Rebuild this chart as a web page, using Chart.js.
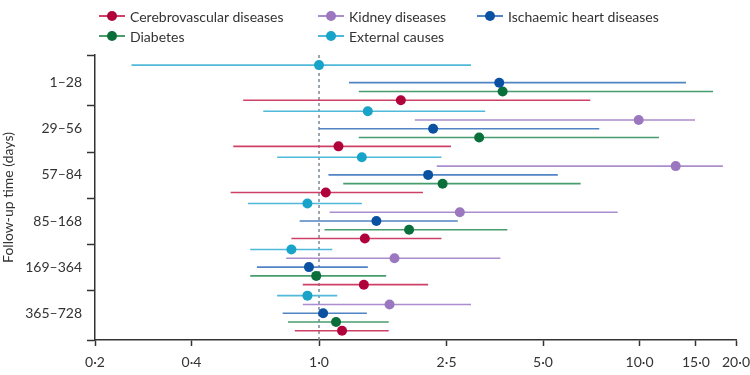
<!DOCTYPE html>
<html>
<head>
<meta charset="utf-8">
<script src="https://cdn.jsdelivr.net/npm/chart.js@4.4.1/dist/chart.umd.min.js"></script>
<style>
    html, body { margin: 0; padding: 0; background: #fff; }
    #wrap { position: relative; width: 750px; height: 375px; }
    #legend { position: absolute; left: 0; top: 0; width: 750px; height: 50px; font-family: Lato, sans-serif; font-size: 14px; color: #333; }
    .item { position: absolute; display: flex; align-items: center; height: 20px; white-space: nowrap; }
    .mark { position: relative; width: 26px; height: 12px; margin-right: 5px; }
    .mark .ln { position: absolute; left: 0; right: 0; top: 5px; height: 2px; }
    .mark .dot { position: absolute; left: 8px; top: 1px; width: 10px; height: 10px; border-radius: 50%; }
</style>
</head>
<body>
<div id="wrap">
    <canvas id="forest"></canvas>
    <div id="legend"></div>
</div>
<script>
// follow-up windows (days)
const groups = ["1–28", "29–56", "57–84", "85–168", "169–364", "365–728"];
const xTicks = [0.2, 0.4, 1, 2.5, 5, 10, 15, 20];

// [estimate, lower, upper] per follow-up window
const cerebrovascular = [[1.80, 0.58, 7.02], [1.15, 0.54, 2.58], [1.05, 0.53, 2.11], [1.39, 0.82, 2.41], [1.38, 0.89, 2.19], [1.18, 0.84, 1.65]];
const kidney = [null, [9.94, 1.99, 14.9], [12.97, 2.33, 18.2], [2.75, 1.08, 8.55], [1.72, 0.79, 3.68], [1.66, 0.89, 2.98]];
const ischaemic = [[3.65, 1.24, 13.96], [2.27, 1.00, 7.49], [2.19, 1.07, 5.56], [1.51, 0.87, 2.71], [0.93, 0.64, 1.42], [1.03, 0.77, 1.41]];
const diabetes = [[3.74, 1.33, 16.96], [3.16, 1.33, 11.5], [2.43, 1.19, 6.55], [1.91, 1.04, 3.87], [0.98, 0.61, 1.62], [1.13, 0.80, 1.65]];
const external = [[1.00, 0.26, 2.98], [1.42, 0.67, 3.30], [1.36, 0.74, 2.41], [0.92, 0.60, 1.36], [0.82, 0.61, 1.10], [0.92, 0.74, 1.14]];

// slot = row inside each window, top to bottom
const series = [
    { name: "Cerebrovascular diseases", data: cerebrovascular, slot: 4, dot: "#b0033c", line: "#cf4067" },
    { name: "Kidney diseases", data: kidney, slot: 1, dot: "#9a77be", line: "#ab8dcd" },
    { name: "Ischaemic heart diseases", data: ischaemic, slot: 2, dot: "#0b51a2", line: "#5084c4" },
    { name: "Diabetes", data: diabetes, slot: 3, dot: "#0b6f3c", line: "#489d6e" },
    { name: "External causes", data: external, slot: 0, dot: "#18a3c9", line: "#50b9d9" },
];

const groupStep = 5.25;
const yMin = -1.15;
const yMax = 31.3;
const centers = groups.map((g, i) => i * groupStep + 2);
const bounds = groups.slice(1).map((g, i) => (i + 1) * groupStep - 0.6);
const isCenter = (v) => centers.some((c) => Math.abs(c - v) < 0.01);

const font = { family: "Lato, sans-serif", size: 14 };
const axisColor = "#333";

let datasets = [];
series.forEach((s) => {
    let dots = [];
    let ci = [];
    s.data.forEach((d, i) => {
        if (!d) return;
        const y = i * groupStep + s.slot;
        dots.push({ x: d[0], y: y });
        ci.push({ x: d[1], y: y }, { x: d[2], y: y }, { x: null, y: null });
    });
    datasets.push({
        type: "line",
        data: ci,
        borderColor: s.line,
        borderWidth: 1.6,
        pointRadius: 0,
        spanGaps: false,
        order: 2,
    });
    datasets.push({
        type: "scatter",
        data: dots,
        backgroundColor: s.dot,
        borderWidth: 0,
        pointRadius: 5,
        order: 1,
    });
});

// reference line at 1
datasets.push({
    type: "line",
    data: [{ x: 1, y: yMin }, { x: 1, y: yMax }],
    borderColor: "#7b8894",
    borderWidth: 1.5,
    borderDash: [3, 3],
    pointRadius: 0,
    order: 3,
});

new Chart(document.getElementById("forest"), {
    type: "scatter",
    data: { datasets: datasets },
    options: {
        responsive: true,
        maintainAspectRatio: false,
        animation: false,
        layout: { padding: { top: 55, right: 14, left: 0, bottom: 0 } },
        plugins: { legend: { display: false }, tooltip: { enabled: false } },
        scales: {
            x: {
                type: "logarithmic",
                min: 0.2,
                max: 20,
                afterBuildTicks: (axis) => {
                    axis.ticks = xTicks.map((v) => ({ value: v }));
                },
                afterFit: (axis) => {
                    axis.height = 35;
                    axis.paddingRight = 0;
                    axis.paddingLeft = 0;
                },
                border: { color: axisColor, width: 1.5 },
                grid: { drawOnChartArea: false, tickLength: 6, tickColor: axisColor, tickWidth: 1.5 },
                ticks: {
                    font: font,
                    color: axisColor,
                    padding: 8,
                    autoSkip: false,
                    maxRotation: 0,
                    callback: (v) => Number(v).toFixed(1).replace(".", "·"),
                },
            },
            y: {
                type: "linear",
                reverse: true,
                min: yMin,
                max: yMax,
                afterBuildTicks: (axis) => {
                    axis.ticks = [yMin, ...bounds, yMax, ...centers].map((v) => ({ value: v }));
                },
                afterFit: (axis) => {
                    axis.width = 95;
                },
                border: { color: axisColor, width: 1.5 },
                grid: {
                    drawOnChartArea: false,
                    tickLength: 8,
                    tickWidth: 1.5,
                    tickColor: (ctx) => (ctx.tick && isCenter(ctx.tick.value) ? "rgba(0,0,0,0)" : axisColor),
                },
                ticks: {
                    font: font,
                    color: axisColor,
                    padding: 5,
                    autoSkip: false,
                    callback: (v) => {
                        const idx = centers.findIndex((c) => Math.abs(c - v) < 0.01);
                        return idx >= 0 ? groups[idx] : "";
                    },
                },
                title: {
                    display: true,
                    text: "Follow-up time (days)",
                    font: font,
                    color: axisColor,
                    padding: { top: 0, bottom: 0 },
                },
            },
        },
    },
});

// legend, three columns
const legendPos = [
    { left: 99, top: 6 }, { left: 318, top: 6 }, { left: 477, top: 6 },
    { left: 99, top: 26 }, { left: 318, top: 26 },
];
const legend = document.getElementById("legend");
series.forEach((s, i) => {
    let item = document.createElement("div");
    item.className = "item";
    item.style.left = legendPos[i].left + "px";
    item.style.top = legendPos[i].top + "px";
    item.innerHTML = `<span class="mark"><span class="ln" style="background:${s.line}"></span><span class="dot" style="background:${s.dot}"></span></span>`;
    item.appendChild(document.createTextNode(s.name));
    legend.appendChild(item);
});
</script>
</body>
</html>
